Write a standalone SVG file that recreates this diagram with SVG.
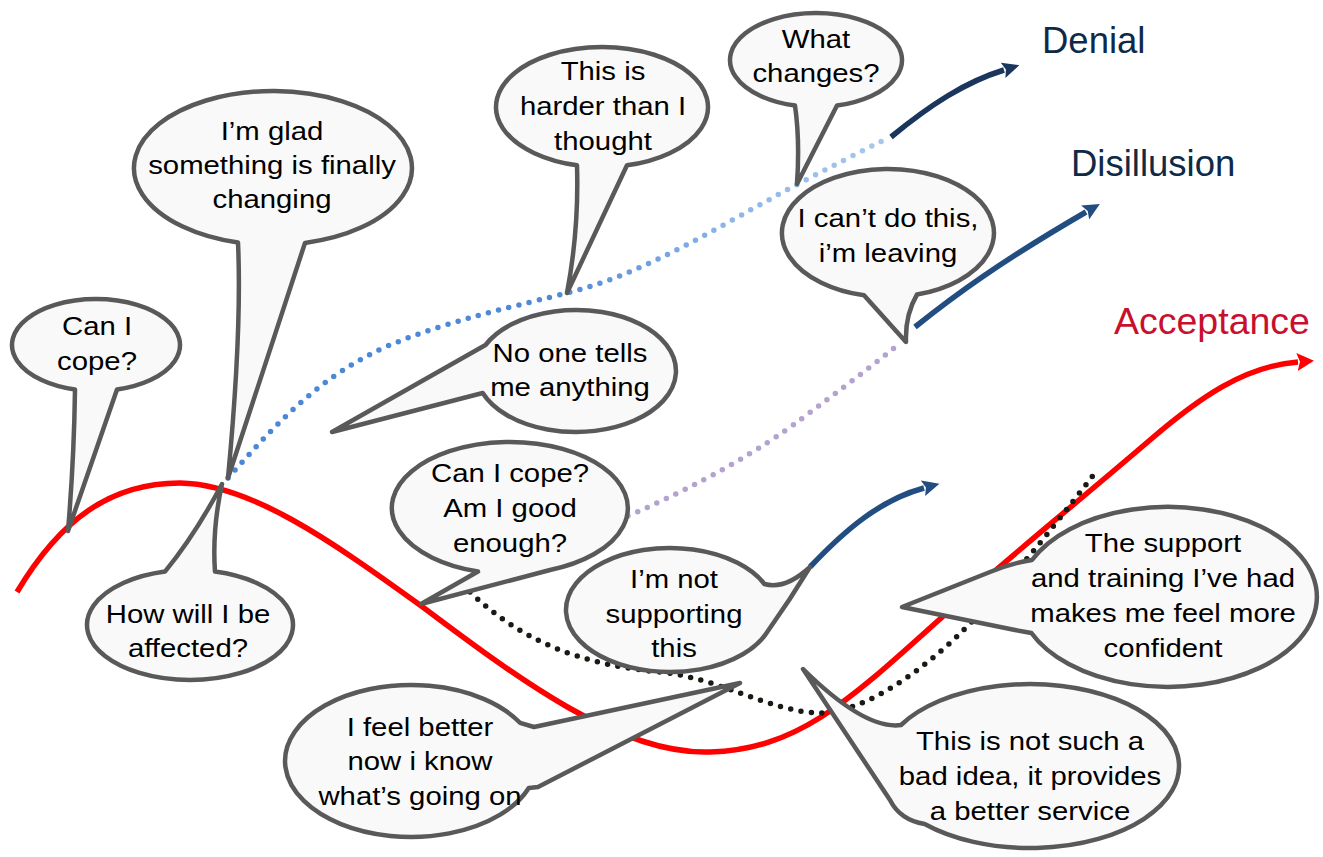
<svg xmlns="http://www.w3.org/2000/svg" width="1323" height="857" viewBox="0 0 1323 857">
<style>
.bub{fill:#f9f9f9;stroke:#595959;stroke-width:4.5;stroke-linejoin:round}
.bt{font-family:"Liberation Sans",Arial,sans-serif;font-size:25.5px;fill:#000;text-anchor:middle}
.ttl{font-family:"Liberation Sans",Arial,sans-serif;font-size:36.5px}
.dot{fill:none;stroke-width:5.5;stroke-linecap:round;stroke-dasharray:0 10.5}
.arr{fill:none;stroke-width:5.5}
</style>
<defs>
<linearGradient id="blueGrad" gradientUnits="userSpaceOnUse" x1="228" y1="478" x2="890" y2="137">
<stop offset="0" stop-color="#4a86d4"/>
<stop offset="0.5" stop-color="#4f8ad6"/>
<stop offset="0.75" stop-color="#8db5e8"/>
<stop offset="1" stop-color="#a8c8ee"/>
</linearGradient>
<marker id="mNavy" markerUnits="userSpaceOnUse" markerWidth="18" markerHeight="16" refX="1" refY="8" orient="auto" viewBox="0 0 18 16">
<path d="M0,0 L17,8 L0,16 L3,8 Z" fill="#1b365d"/>
</marker>
<marker id="mBlue" markerUnits="userSpaceOnUse" markerWidth="18" markerHeight="16" refX="1" refY="8" orient="auto" viewBox="0 0 18 16">
<path d="M0,0 L17,8 L0,16 L3,8 Z" fill="#214d80"/>
</marker>
<marker id="mRed" markerUnits="userSpaceOnUse" markerWidth="18" markerHeight="18" refX="1" refY="9" orient="auto" viewBox="0 0 18 18">
<path d="M0,0 L17,9 L0,18 L3,9 Z" fill="#ff0000"/>
</marker>
</defs>
<rect width="1323" height="857" fill="#ffffff"/>

<g id="connectors">
<path id="acceptance-curve" class="arr" stroke="#ff0000" d="M17,592 C60,520 110,483 180,483 C250,484 330,540 420,605 C520,680 620,755 710,752 C800,749 850,700 950,610 C1000,565 1080,500 1150,440 C1200,397 1245,366 1298,362" marker-end="url(#mRed)"/>
<path id="black-dots" class="dot" stroke="#1a1a14" d="M470,592 C520,640 580,665 660,672 C720,678 770,712 820,713 C880,712 960,640 1000,590 C1040,545 1070,505 1095,473"/>
<path id="lavender-dots" class="dot" stroke="#b3a3cf" d="M628,516 C700,485 760,450 800,420 C840,390 880,360 900,343"/>
<path id="blue-dots" class="dot" stroke="url(#blueGrad)" d="M228,478 C275,425 320,375 390,345 C450,320 520,305 567,293 C650,272 720,225 800,183 C830,167 860,152 888,138"/>
<path id="denial-arrow" class="arr" stroke="#1b365d" d="M891,137 C930,105 965,82 1004,70" marker-end="url(#mNavy)"/>
<path id="disillusion-arrow" class="arr" stroke="#214d80" d="M915,327 C955,295 1000,262 1086,212" marker-end="url(#mBlue)"/>
<path id="support-arrow" class="arr" stroke="#214d80" d="M810,567 C845,530 880,500 924,488" marker-end="url(#mBlue)"/>
</g>

<g id="label-denial"><text class="ttl" x="1042" y="53" fill="#0e2a47">Denial</text></g>
<g id="label-disillusion"><text class="ttl" x="1071" y="176" fill="#0e2a47">Disillusion</text></g>
<g id="label-acceptance"><text class="ttl" x="1114" y="334" fill="#c8102e" style="font-size:37.5px">Acceptance</text></g>

<g id="bubble-can-i-cope">
<path class="bub" d="M75,389.5 A84,46 0 1 1 117,389.5 L68,531 Q74,460 75,389.5 Z"/>
<text class="bt" transform="translate(97,0) scale(1.15,1)"><tspan x="0" y="335">Can I</tspan><tspan x="0" y="370">cope?</tspan></text>
</g>

<g id="bubble-glad">
<path class="bub" d="M238,242.5 A139,77 0 1 1 305,242.9 L228,478 Q242,330 238,242.5 Z"/>
<text class="bt" transform="translate(272,0) scale(1.15,1)"><tspan x="0" y="140">I’m glad</tspan><tspan x="0" y="174">something is finally</tspan><tspan x="0" y="208">changing</tspan></text>
</g>

<g id="bubble-affected">
<path class="bub" d="M215,571.6 A103,55 0 1 1 165,571.6 Q195,535 222,484 Q212,530 215,571.6 Z"/>
<text class="bt" transform="translate(188,0) scale(1.15,1)"><tspan x="0" y="623">How will I be</tspan><tspan x="0" y="657">affected?</tspan></text>
</g>

<g id="bubble-harder">
<path class="bub" d="M577,165.3 A106,60 0 1 1 627,165.3 L567,293 Q579,230 577,165.3 Z"/>
<text class="bt" transform="translate(603,0) scale(1.15,1)"><tspan x="0" y="80">This is</tspan><tspan x="0" y="115">harder than I</tspan><tspan x="0" y="150">thought</tspan></text>
</g>

<g id="bubble-what-changes">
<path class="bub" d="M795,105.6 A86,47 0 1 1 837,105.6 L797,184 Q800,140 795,105.6 Z"/>
<text class="bt" transform="translate(816,0) scale(1.15,1)"><tspan x="0" y="48">What</tspan><tspan x="0" y="82">changes?</tspan></text>
</g>

<g id="bubble-leaving">
<path class="bub" d="M864,295.3 A106,64 0 1 1 917,294.5 Q905,315 906,342 Z"/>
<text class="bt" transform="translate(888,0) scale(1.15,1)"><tspan x="0" y="227">I can’t do this,</tspan><tspan x="0" y="262">i’m leaving</tspan></text>
</g>

<g id="bubble-no-one-tells">
<path class="bub" d="M485.5,345 A100,61 0 1 1 482.7,393 L332,432 Z"/>
<text class="bt" transform="translate(570,0) scale(1.15,1)"><tspan x="0" y="362">No one tells</tspan><tspan x="0" y="396">me anything</tspan></text>
</g>

<g id="bubble-good-enough">
<path class="bub" d="M478,571.5 A118,66 0 1 1 550,570 L421,604 Z"/>
<text class="bt" transform="translate(510,0) scale(1.15,1)"><tspan x="0" y="482">Can I cope?</tspan><tspan x="0" y="517">Am I good</tspan><tspan x="0" y="552">enough?</tspan></text>
</g>

<g id="bubble-not-supporting">
<path class="bub" d="M767.2,632 A104,62 0 1 1 764.4,584 Q785,590 810,567 Q790,600 767.2,632 Z"/>
<text class="bt" transform="translate(674,0) scale(1.15,1)"><tspan x="0" y="588">I’m not</tspan><tspan x="0" y="623">supporting</tspan><tspan x="0" y="657">this</tspan></text>
</g>

<g id="bubble-feel-better">
<path class="bub" d="M528.8,788 A126,76 0 1 1 520,722.8 L534,727 L740,683 L538,787 Z"/>
<text class="bt" transform="translate(420,0) scale(1.15,1)"><tspan x="0" y="736">I feel better</tspan><tspan x="0" y="770">now i know</tspan><tspan x="0" y="805">what’s going on</tspan></text>
</g>

<g id="bubble-not-bad-idea">
<path class="bub" d="M901,725 A149,82 0 1 1 924.6,824 Q900,820 890,800 L803,669 Q865,730 901,725 Z"/>
<text class="bt" transform="translate(1030,0) scale(1.15,1)"><tspan x="0" y="750">This is not such a</tspan><tspan x="0" y="785">bad idea, it provides</tspan><tspan x="0" y="820">a better service</tspan></text>
</g>

<g id="bubble-support-training">
<path class="bub" d="M1032,560 A149,90 0 1 1 1031.4,633 L1015,630 L902,607 L990,572 Q1012,563 1032,560 Z"/>
<text class="bt" transform="translate(1163,0) scale(1.15,1)"><tspan x="0" y="552">The support</tspan><tspan x="0" y="587">and training I’ve had</tspan><tspan x="0" y="622">makes me feel more</tspan><tspan x="0" y="657">confident</tspan></text>
</g>
</svg>
